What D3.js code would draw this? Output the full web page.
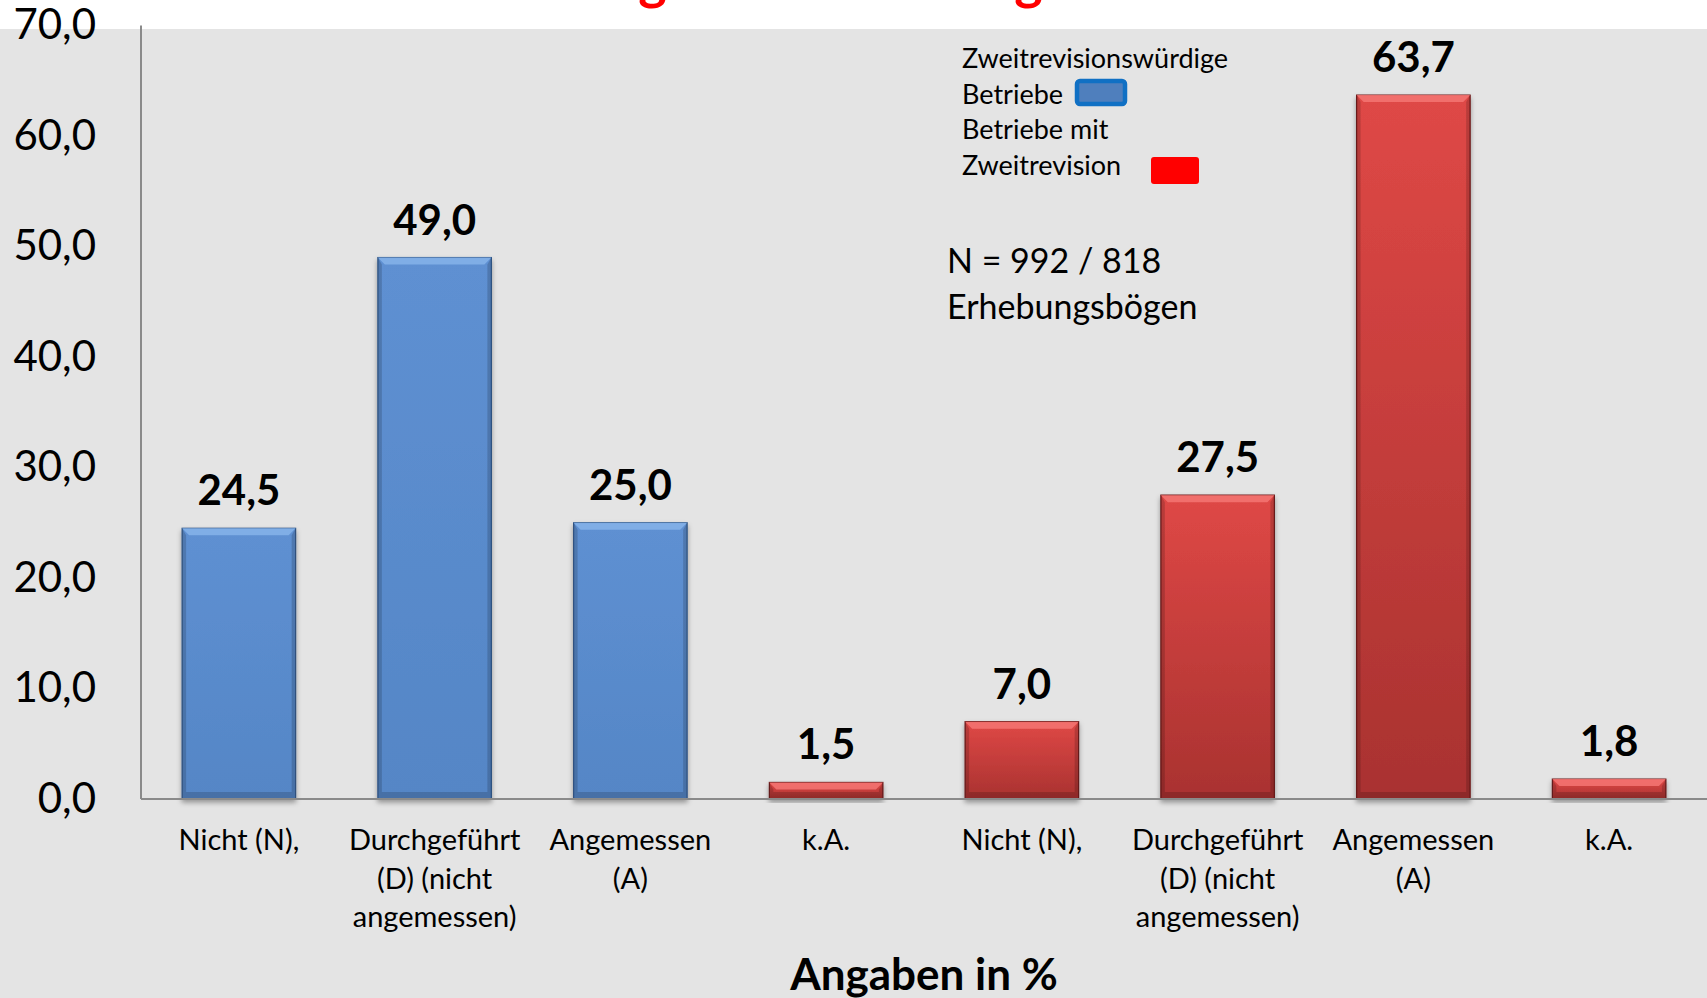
<!DOCTYPE html>
<html>
<head>
<meta charset="utf-8">
<script src="https://cdn.jsdelivr.net/npm/d3@7"></script>
<style>
  body { margin: 0; background: #fff; }
  svg { display: block; font-family: Lato, "Open Sans", sans-serif; }
</style>
</head>
<body>
<div id="chart"></div>
<script>
// chart data
var categories = ["N1", "D1", "A1", "K1", "N2", "D2", "A2", "K2"];
var labelLines = [
  ["Nicht (N),"],
  ["Durchgeführt", "(D) (nicht", "angemessen)"],
  ["Angemessen", "(A)"],
  ["k.A."],
  ["Nicht (N),"],
  ["Durchgeführt", "(D) (nicht", "angemessen)"],
  ["Angemessen", "(A)"],
  ["k.A."]
];
var values = [24.5, 49.0, 25.0, 1.5, 7.0, 27.5, 63.7, 1.8];
var barGroup = ["blue", "blue", "blue", "red", "red", "red", "red", "red"];
var yTicks = [0, 10, 20, 30, 40, 50, 60, 70];
var legendLines = ["Zweitrevisionswürdige", "Betriebe", "Betriebe mit", "Zweitrevision"];

var W = 1707, H = 998;
var plot = {left: 141, right: 1707, top: 25.5, bottom: 799};

var svg = d3.select("#chart").append("svg")
    .attr("width", W)
    .attr("height", H);

// background: white strip on top, grey below
svg.append("rect").attr("width", W).attr("height", H).attr("fill", "#ffffff");
svg.append("rect").attr("y", 29).attr("width", W).attr("height", H - 29).attr("fill", "#e4e4e4");

// title, cut off by the top edge (only descenders show)
svg.append("text")
    .attr("x", 387)
    .attr("y", -1)
    .attr("fill", "#ff0000")
    .style("font-size", "54px")
    .style("font-weight", "bold")
    .text("Beurteilung der Umsetzung");

var x = d3.scaleBand()
    .domain(categories)
    .range([plot.left, plot.right])
    .paddingInner(0.42)
    .paddingOuter(0.21);

var y = d3.scaleLinear()
    .domain([0, 70])
    .range([plot.bottom, plot.top]);

var defs = svg.append("defs");
var colors = {
  blue: {top: "#5e90d2", bottom: "#5586c6", bevel: "#86b4ea", edge: "#34598a"},
  red: {top: "#df4846", bottom: "#a93230", bevel: "#f47573", edge: "#6e1c1c"}
};
Object.keys(colors).forEach(function(k) {
  var g = defs.append("linearGradient")
      .attr("id", "grad-" + k)
      .attr("x1", 0).attr("y1", 0).attr("x2", 0).attr("y2", 1);
  g.append("stop").attr("offset", "0%").attr("stop-color", colors[k].top);
  g.append("stop").attr("offset", "100%").attr("stop-color", colors[k].bottom);
});
var shadow = defs.append("filter").attr("id", "shadow")
    .attr("x", "-10%").attr("y", "-10%").attr("width", "120%").attr("height", "130%");
shadow.append("feDropShadow")
    .attr("dx", 0).attr("dy", 3).attr("stdDeviation", 2.5)
    .attr("flood-color", "#000").attr("flood-opacity", 0.35);

// y axis
var yAxis = d3.axisLeft(y)
    .tickValues(yTicks)
    .tickSize(0)
    .tickPadding(45)
    .tickFormat(function(d) { return d3.format(".1f")(d).replace(".", ","); });

var yAxisG = svg.append("g")
    .attr("transform", "translate(" + plot.left + ",0)")
    .call(yAxis);
yAxisG.select(".domain").remove();
yAxisG.selectAll("text")
    .attr("fill", "#000")
    .style("font-size", "42px")
    .style("font-family", "Lato, sans-serif");

svg.append("line")
    .attr("x1", plot.left).attr("x2", plot.left)
    .attr("y1", y(70)).attr("y2", y(0))
    .attr("stroke", "#8a8a8a").attr("stroke-width", 2);

// bars
var data = categories.map(function(c, i) {
  return {key: c, value: values[i], group: barGroup[i], lines: labelLines[i]};
});

var bars = svg.selectAll(".bar")
    .data(data)
    .enter().append("g")
    .attr("class", "bar");

bars.append("rect")
    .attr("x", function(d) { return x(d.key); })
    .attr("y", function(d) { return y(d.value); })
    .attr("width", x.bandwidth())
    .attr("height", function(d) { return y(0) - y(d.value); })
    .attr("fill", function(d) { return "url(#grad-" + d.group + ")"; })
    .attr("stroke", function(d) { return colors[d.group].edge; })
    .attr("stroke-width", 1.2)
    .attr("filter", "url(#shadow)");

// bevel: light top, dark sides and bottom
var bev = 7;
bars.append("path")
    .attr("d", function(d) {
      var x0 = x(d.key), x1 = x0 + x.bandwidth(), y0 = y(d.value);
      var b = Math.min(bev, (y(0) - y0) / 2);
      return "M" + x0 + "," + y0 + "L" + x1 + "," + y0 +
        "L" + (x1 - b) + "," + (y0 + b) + "L" + (x0 + b) + "," + (y0 + b) + "Z";
    })
    .attr("fill", function(d) { return colors[d.group].bevel; })
    .attr("opacity", 0.85);

bars.append("path")
    .attr("d", function(d) {
      var x0 = x(d.key), x1 = x0 + x.bandwidth(), y0 = y(d.value), yb = y(0);
      var b = Math.min(bev, (yb - y0) / 2), s = 4;
      return "M" + x0 + "," + y0 + "L" + (x0 + s) + "," + (y0 + b) + "L" + (x0 + s) + "," + (yb - b) + "L" + x0 + "," + yb + "Z" +
        "M" + x1 + "," + y0 + "L" + (x1 - s) + "," + (y0 + b) + "L" + (x1 - s) + "," + (yb - b) + "L" + x1 + "," + yb + "Z" +
        "M" + x0 + "," + yb + "L" + (x0 + s) + "," + (yb - b) + "L" + (x1 - s) + "," + (yb - b) + "L" + x1 + "," + yb + "Z";
    })
    .attr("fill", "#000")
    .attr("opacity", 0.16);

// value labels
bars.append("text")
    .attr("x", function(d) { return x(d.key) + x.bandwidth() / 2; })
    .attr("y", function(d) { return y(d.value) - 23; })
    .attr("text-anchor", "middle")
    .style("font-size", "42px")
    .style("font-weight", "bold")
    .text(function(d) { return d3.format(".1f")(d.value).replace(".", ","); });

// x axis line
svg.append("line")
    .attr("x1", plot.left).attr("x2", plot.right)
    .attr("y1", y(0)).attr("y2", y(0))
    .attr("stroke", "#8a8a8a").attr("stroke-width", 2);

// category labels
var catText = svg.selectAll(".cat")
    .data(data)
    .enter().append("text")
    .attr("class", "cat")
    .attr("text-anchor", "middle")
    .attr("y", 850)
    .style("font-size", "29px");
catText.selectAll("tspan")
    .data(function(d) { return d.lines.map(function(l) { return {key: d.key, line: l}; }); })
    .enter().append("tspan")
    .attr("x", function(d) { return x(d.key) + x.bandwidth() / 2; })
    .attr("dy", function(d, i) { return i === 0 ? 0 : 38.5; })
    .text(function(d) { return d.line; });

// axis title
svg.append("text")
    .attr("x", (plot.left + plot.right) / 2)
    .attr("y", 990)
    .attr("text-anchor", "middle")
    .style("font-size", "44px")
    .style("font-weight", "bold")
    .text("Angaben in %");

// legend
var legend = svg.append("g").attr("class", "legend");
legend.selectAll("text")
    .data(legendLines)
    .enter().append("text")
    .attr("x", 962)
    .attr("y", function(d, i) { return 68 + i * 35.5; })
    .style("font-size", "27px")
    .text(function(d) { return d; });
legend.append("rect")
    .attr("x", 1077).attr("y", 81).attr("width", 48).attr("height", 23)
    .attr("rx", 3)
    .attr("fill", "#4f7fbd").attr("stroke", "#1070c4").attr("stroke-width", 4.5);
legend.append("rect")
    .attr("x", 1151).attr("y", 157).attr("width", 48).attr("height", 27)
    .attr("rx", 3)
    .attr("fill", "#ff0000");

// sample size note
svg.append("text")
    .attr("x", 947)
    .attr("y", 273)
    .style("font-size", "34px")
    .text("N = 992 / 818");
svg.append("text")
    .attr("x", 947)
    .attr("y", 319)
    .style("font-size", "34px")
    .text("Erhebungsbögen");
</script>
</body>
</html>
